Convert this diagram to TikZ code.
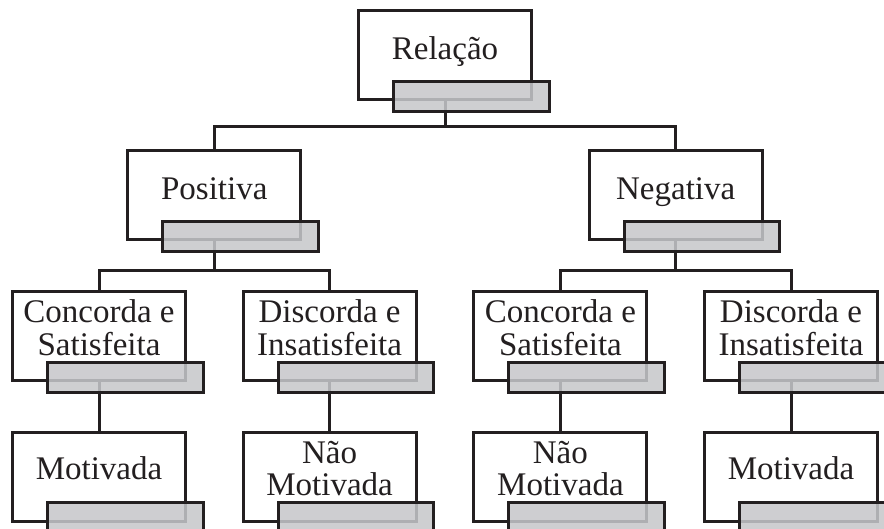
\documentclass[tikz,border=0pt]{standalone}
\usepackage{fontspec}
\setmainfont{Liberation Serif}
\definecolor{ink}{RGB}{35,31,32}
\definecolor{tabgray}{RGB}{198,199,202}
\tikzset{
  box/.style={draw=ink, line width=3pt, fill=white, rectangle,
    minimum width=173pt, minimum height=89pt, inner sep=0pt},
  flap/.style={draw=ink, line width=3pt, fill=tabgray, fill opacity=0.86,
    rectangle, minimum width=155.5pt, minimum height=30pt, inner sep=0pt},
  lbl/.style={text=ink, inner sep=0pt, anchor=base,
    font=\fontsize{33}{31}\selectfont},
  wire/.style={draw=ink, line width=3pt},
}
\newcommand{\twolines}[2]{{\setlength{\tabcolsep}{0pt}\begin{tabular}[t]{c}#1\\#2\end{tabular}}}
\begin{document}
\begin{tikzpicture}[x=1pt, y=-1pt]
  \useasboundingbox (0,0) rectangle (884,529);
  \clip (0,0) rectangle (884,529);

  % bus levels for the connectors
  \coordinate (bus1) at (0,127);
  \coordinate (bus2) at (0,271);

  % boxes
  \node[box] (rel) at (445,55.5) {};
  \node[box] (pos) at (214.3,195.5) {};
  \node[box] (neg) at (675.7,195.5) {};
  \node[box] (c1) at (99,336.5) {};
  \node[box] (c2) at (329.6,336.5) {};
  \node[box] (c3) at (560.4,336.5) {};
  \node[box] (c4) at (791,336.5) {};
  \node[box] (m1) at (99,476.5) {};
  \node[box] (m2) at (329.6,476.5) {};
  \node[box] (m3) at (560.4,476.5) {};
  \node[box] (m4) at (791,476.5) {};

  % connectors
  \draw[wire] (rel.south) -- (rel.south |- bus1) -| (pos.north);
  \draw[wire] (rel.south |- bus1) -| (neg.north);
  \draw[wire] (pos.south) -- (pos.south |- bus2) -| (c1.north);
  \draw[wire] (pos.south |- bus2) -| (c2.north);
  \draw[wire] (neg.south) -- (neg.south |- bus2) -| (c3.north);
  \draw[wire] (neg.south |- bus2) -| (c4.north);
  \draw[wire] (c1.south) -- (m1.north);
  \draw[wire] (c2.south) -- (m2.north);
  \draw[wire] (c3.south) -- (m3.north);
  \draw[wire] (c4.south) -- (m4.north);

  % grey tabs over the lower edge of each box
  \foreach \b in {rel,pos,neg,c1,c2,c3,c4,m1,m2,m3,m4}
    \node[flap] (\b-tab) at ([xshift=26.25pt,yshift=5pt]\b.south) {};

  % labels
  \node[lbl] (rel-t) at ([yshift=-50pt]rel.north) {Relação};
  \node[lbl] (pos-t) at ([yshift=-50pt]pos.north) {Positiva};
  \node[lbl] (neg-t) at ([yshift=-50pt]neg.north) {Negativa};
  \node[lbl] (c1-t) at ([yshift=-32.5pt]c1.north) {\twolines{Concorda e}{Satisfeita}};
  \node[lbl] (c2-t) at ([yshift=-32.5pt]c2.north) {\twolines{Discorda e}{Insatisfeita}};
  \node[lbl] (c3-t) at ([yshift=-32.5pt]c3.north) {\twolines{Concorda e}{Satisfeita}};
  \node[lbl] (c4-t) at ([yshift=-32.5pt]c4.north) {\twolines{Discorda e}{Insatisfeita}};
  \node[lbl] (m1-t) at ([yshift=-48.5pt]m1.north) {Motivada};
  \node[lbl] (m2-t) at ([yshift=-32.5pt]m2.north) {\twolines{Não}{Motivada}};
  \node[lbl] (m3-t) at ([yshift=-32.5pt]m3.north) {\twolines{Não}{Motivada}};
  \node[lbl] (m4-t) at ([yshift=-48.5pt]m4.north) {Motivada};
\end{tikzpicture}
\end{document}
